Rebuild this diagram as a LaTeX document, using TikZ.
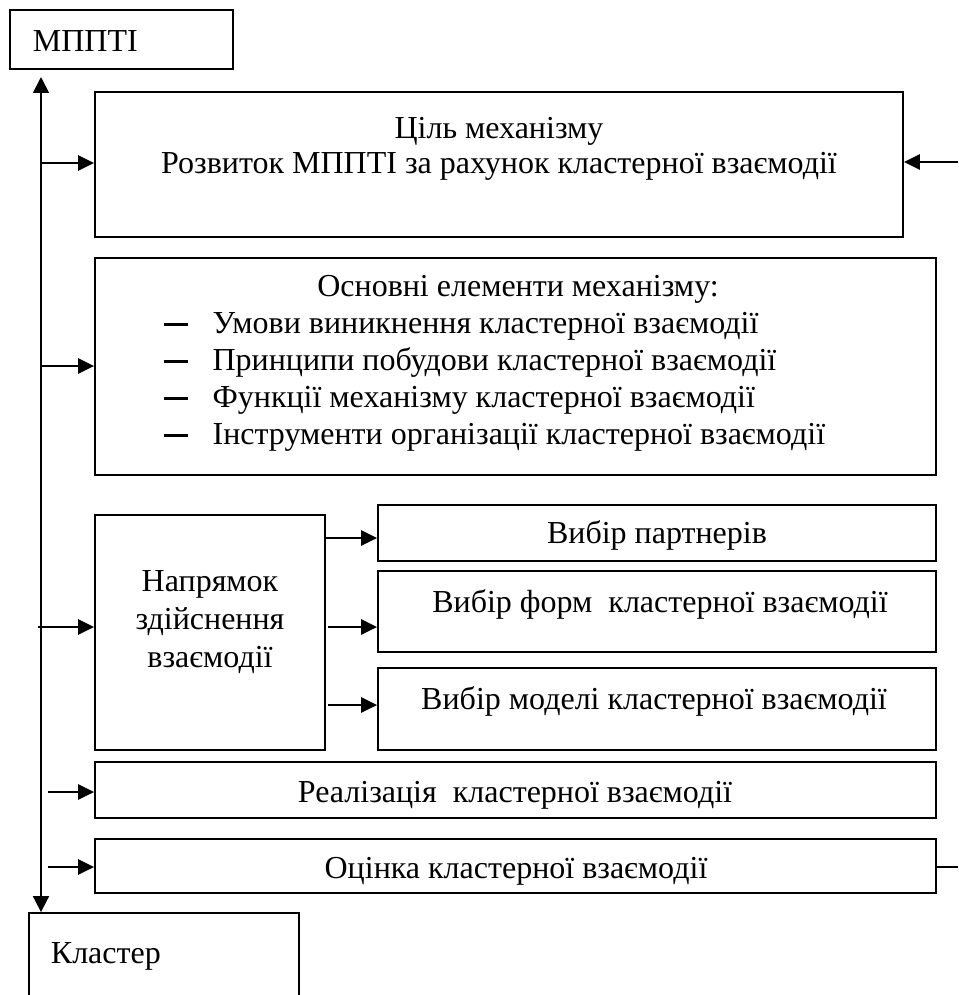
\documentclass[tikz,border=0pt]{standalone}
\usepackage{fontspec}
\setmainfont{Liberation Serif}
\usetikzlibrary{arrows.meta,fit}
\begin{document}
\begin{tikzpicture}[x=0.75pt,y=-0.75pt,line width=1.4pt,
  box/.style={draw,inner sep=0pt},
  txt/.style={inner sep=0pt,font=\fontsize{24}{28}\selectfont,anchor=base},
  arr/.style={-{Triangle[length=12pt,width=11.5pt]}},
  darr/.style={{Triangle[length=12pt,width=12pt]}-{Triangle[length=12pt,width=12pt]}},
  dashitem/.style={txt,anchor=base west}]
\useasboundingbox (0,0) rectangle (958,995);
\clip (0,0) rectangle (958,995);
% boxes
\node[box,fit={(10,10)(233,69)}] (mppti) {};
\node[box,fit={(29,913)(299,1010)}] (klaster) {};
\node[box,fit={(95,92)(903,237)}] (goal) {};
\node[box,fit={(95,258)(936,475)}] (elem) {};
\node[box,fit={(95,515)(325,750)}] (napr) {};
\node[box,fit={(378,505)(936,561)}] (partn) {};
\node[box,fit={(378,571)(936,652)}] (forms) {};
\node[box,fit={(378,668)(936,750)}] (model) {};
\node[box,fit={(95,762)(936,818)}] (real) {};
\node[box,fit={(95,839)(936,893)}] (eval) {};
% texts
\node[txt,anchor=base west] (tmppti) at (32,52) {МППТІ};
\node[txt,anchor=base west] (tklaster) at (50,963) {Кластер};
\node[txt] (tgoal1) at (499,139) {Ціль механізму};
\node[txt] (tgoal2) at (499,174) {Розвиток МППТІ за рахунок кластерної взаємодії};
\node[txt] (telem) at (518,296) {Основні елементи механізму:};
\newcommand\dashit{\makebox[36.5pt][l]{\rule[0.23em]{18pt}{2pt}}}
\node[dashitem] (e1) at (163,333) {\dashit Умови виникнення кластерної взаємодії};
\node[dashitem] (e2) at (163,370) {\dashit Принципи побудови кластерної взаємодії};
\node[dashitem] (e3) at (163,407) {\dashit Функції механізму кластерної взаємодії};
\node[dashitem] (e4) at (163,444) {\dashit Інструменти організації кластерної взаємодії};
\node[txt] (tn1) at (210,591) {Напрямок};
\node[txt] (tn2) at (210,629) {здійснення};
\node[txt] (tn3) at (210,667) {взаємодії};
\node[txt] (tpartn) at (657,543) {Вибір партнерів};
\node[txt] (tforms) at (660,612) {Вибір форм\ \ кластерної взаємодії};
\node[txt] (tmodel) at (654,709) {Вибір моделі кластерної взаємодії};
\node[txt] (treal) at (515,802) {Реалізація\ \ кластерної взаємодії};
\node[txt] (teval) at (516,878) {Оцінка кластерної взаємодії};
% spine
\coordinate (vtop) at (41,77);
\draw[darr] (vtop) -- (vtop |- klaster.north);
\coordinate (s1) at (41,163);
\coordinate (s2) at (41,366);
\coordinate (s3) at (38,627);
\coordinate (s4) at (48,792);
\coordinate (s5) at (48,867);
\draw[arr] (s1) -- (s1 -| goal.west);
\draw[arr] (s2) -- (s2 -| elem.west);
\draw[arr] (s3) -- (s3 -| napr.west);
\draw[arr] (s4) -- (s4 -| real.west);
\draw[arr] (s5) -- (s5 -| eval.west);
% from napr
\coordinate (n1) at (325,538);
\coordinate (n2) at (328,627);
\coordinate (n3) at (328,705);
\draw[arr] (n1) -- (n1 -| partn.west);
\draw[arr] (n2) -- (n2 -| forms.west);
\draw[arr] (n3) -- (n3 -| model.west);
% right side
\coordinate (r1) at (958,162);
\draw[arr] (r1) -- (r1 -| goal.east);
\coordinate (r2) at (958,867);
\draw (r2 -| eval.east) -- (r2);
\end{tikzpicture}
\end{document}
